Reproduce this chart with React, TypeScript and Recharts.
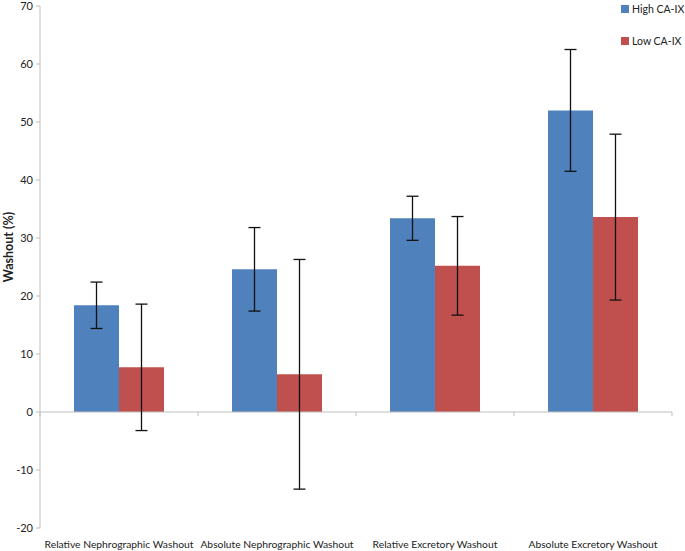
import React from "react";
import {
  BarChart,
  Bar,
  XAxis,
  YAxis,
  ErrorBar,
  Legend,
  ReferenceLine,
} from "recharts";

const categories = [
  "Relative Nephrographic Washout",
  "Absolute Nephrographic Washout",
  "Relative Excretory Washout",
  "Absolute Excretory Washout",
];
const highValues = [18.4, 24.6, 33.4, 52.0];
const highErrors = [4.0, 7.2, 3.8, 10.5];
const lowValues = [7.7, 6.5, 25.2, 33.6];
const lowErrors = [10.9, 19.8, 8.5, 14.3];
const yTicks = [-20, -10, 0, 10, 20, 30, 40, 50, 60, 70];

const data = categories.map((name, i) => ({
  name,
  high: highValues[i],
  highErr: highErrors[i],
  low: lowValues[i],
  lowErr: lowErrors[i],
}));

const FONT = "Lato, 'Open Sans', sans-serif";
const BLUE = "#4F81BD";
const RED = "#C0504D";
const AXIS = "#BFBFBF";

// zero line with small ticks at category boundaries
const ZeroLine = (props: any) => {
  const { x1, y1, x2 } = props;
  const ticks = [0, 1, 2, 3, 4].map((i) => x1 + ((x2 - x1) * i) / 4);
  return (
    <g>
      <line x1={x1} y1={y1} x2={x2} y2={y1} stroke={AXIS} strokeWidth={1} />
      {ticks.map((t, i) => (
        <line key={i} x1={t} y1={y1} x2={t} y2={y1 + 4} stroke={AXIS} strokeWidth={1} />
      ))}
    </g>
  );
};

const LegendBox = (props: any) => {
  const { payload } = props;
  return (
    <div style={{ fontFamily: FONT, fontSize: 10.5, color: "#222", whiteSpace: "nowrap" }}>
      {payload.map((p: any) => (
        <div
          key={p.value}
          style={{ display: "flex", alignItems: "center", height: 17, marginBottom: 15 }}
        >
          <span
            style={{
              width: 8,
              height: 8,
              flexShrink: 0,
              background: p.color,
              marginRight: 3,
              display: "inline-block",
            }}
          />
          {p.value}
        </div>
      ))}
    </div>
  );
};

export default function App() {
  return (
    <div style={{ position: "absolute", left: 0, top: 0, background: "#fff" }}>
      <BarChart
        width={685}
        height={551}
        data={data}
        margin={{ top: 6, right: 13, left: 0, bottom: 0 }}
        barCategoryGap={34}
        barGap={0}
      >
        <XAxis
          dataKey="name"
          axisLine={false}
          tickLine={false}
          height={23}
          tickMargin={7}
          interval={0}
          tick={{ fontSize: 10.3, fill: "#222", fontFamily: FONT }}
        />
        <YAxis
          width={40}
          domain={[-20, 70]}
          ticks={yTicks}
          interval={0}
          stroke={AXIS}
          tickSize={4}
          tickMargin={3}
          tick={{ fontSize: 11, fill: "#222", fontFamily: FONT }}
          label={{
            content: (p: any) => {
              const vb = p.viewBox;
              const cx = vb.x + 8;
              const cy = 247;
              return (
                <text
                  x={cx}
                  y={cy}
                  transform={`rotate(-90 ${cx} ${cy})`}
                  textAnchor="middle"
                  dominantBaseline="central"
                  fontFamily={FONT}
                  fontSize={12.5}
                  fontWeight="bold"
                  fill="#222"
                >
                  Washout (%)
                </text>
              );
            },
          }}
        />
        <ReferenceLine y={0} shape={ZeroLine} />
        <Legend
          layout="horizontal"
          align="center"
          verticalAlign="middle"
          content={<LegendBox />}
          wrapperStyle={{ top: 0, left: 621, width: 64, overflow: "visible" }}
        />
        <Bar dataKey="high" name="High CA-IX" fill={BLUE} isAnimationActive={false}>
          <ErrorBar dataKey="highErr" width={6} stroke="#111" strokeWidth={1.3} />
        </Bar>
        <Bar dataKey="low" name="Low CA-IX" fill={RED} isAnimationActive={false}>
          <ErrorBar dataKey="lowErr" width={6} stroke="#111" strokeWidth={1.3} />
        </Bar>
      </BarChart>
    </div>
  );
}
